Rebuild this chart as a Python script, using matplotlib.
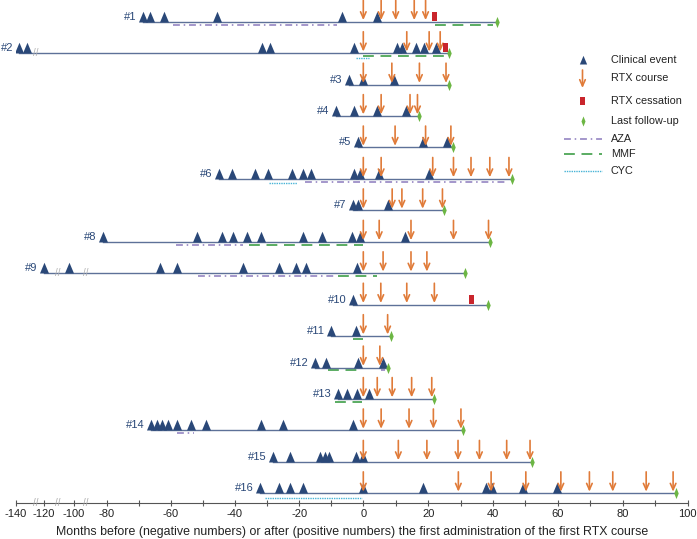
import numpy as np
import matplotlib
matplotlib.use('Agg')
import matplotlib.pyplot as plt
from matplotlib.patches import Rectangle

plt.rcParams['font.family'] = ['Liberation Sans', 'DejaVu Sans']
plt.rcParams['axes.unicode_minus'] = False

# months relative to the first RTX administration, one list per patient (#1..#16)
events = [
    [-68.8, -66.5, -62.1, -45.7, -6.5, 4.1],
    [-137.6, -132.4, -31.7, -29.1, -2.8, 10.3, 11.8, 16.2, 18.8, 22.3],
    [-4.5, -0.2, 9.5],
    [-8.6, -2.8, 4.1, 13.1],
    [-1.7, 18.3, 25.9],
    [-44.9, -41.0, -33.7, -29.8, -22.3, -18.9, -16.4, -2.8, -1.0, 4.8, 20.3],
    [-3.3, -1.6, 7.5],
    [-82.1, -51.9, -44.0, -40.5, -36.2, -31.9, -18.9, -13.0, -3.4, -1.0, 12.9],
    [-120.0, -103.1, -63.4, -58.2, -37.4, -26.2, -21.1, -17.9, -2.1],
    [-3.3],
    [-10.1, -2.3],
    [-15.1, -11.6, -1.7, 6.2],
    [-7.8, -5.2, -2.1, 1.8],
    [-66.2, -64.4, -62.9, -61.0, -58.2, -53.8, -49.0, -31.9, -25.1, -3.1],
    [-28.1, -22.9, -13.5, -11.9, -10.7, -2.3, -0.2],
    [-32.2, -26.2, -22.9, -18.9, -0.2, 18.5, 37.8, 39.8, 49.1, 59.6],
]
rtx = [
    [0, 5.5, 10.0, 15.7, 19.2],
    [0, 13.4, 20.3, 23.7],
    [0, 8.8, 17.3, 25.5],
    [0, 5.5, 14.4, 16.7],
    [0, 9.8, 19.2, 27.0],
    [0, 5.5, 21.4, 27.8, 33.2, 39.0, 44.9],
    [0, 8.9, 11.9, 18.3, 24.4],
    [0, 4.9, 14.7, 27.8, 38.6],
    [0, 6.1, 14.7, 19.6],
    [0, 5.4, 13.4, 21.9],
    [0, 7.5],
    [0, 5.1],
    [0, 4.3, 8.9, 14.9, 21.1],
    [0, 5.5, 14.1, 21.6, 30.1],
    [0, 10.8, 19.6, 29.2, 35.8, 44.2, 51.4],
    [0, 29.3, 39.4, 50.1, 60.9, 69.7, 76.9, 87.2, 95.5],
]
followup = [41.3, 26.5, 26.5, 17.2, 27.8, 45.7, 25.0, 39.1, 31.4, 38.3, 8.5, 7.5, 21.8, 30.7, 52.1, 96.5]
cess_patient = [1, 2, 10]
cess_month = [21.8, 25.2, 33.2]

# (patient, drug, start, end)
treatments = [
    (1, 'AZA', -59.3, -8.2), (1, 'MMF', 22.1, 40.0),
    (2, 'MMF', 0.0, 25.7), (2, 'CYC', -2.3, 1.8),
    (6, 'CYC', -29.3, -20.6), (6, 'AZA', -18.2, 44.2),
    (8, 'AZA', -58.4, -37.4), (8, 'MMF', -35.5, 0.0),
    (9, 'AZA', -51.6, -8.3), (9, 'MMF', -7.8, 4.1),
    (11, 'MMF', -3.3, 0.0),
    (12, 'MMF', -11.1, -0.7), (12, 'AZA', 5.4, 6.7),
    (13, 'MMF', -8.7, -0.5),
    (14, 'AZA', -58.0, -52.7),
    (16, 'CYC', -30.7, -0.5),
]
axis_breaks = [-126, -111, -93]
row_breaks = {2: [-126], 9: [-111, -93]}

major_ticks = [-140, -120, -100, -80, -60, -40, -20, 0, 20, 40, 60, 80, 100]
minor_ticks = [-70, -50, -30, -10, 10, 30, 50, 70, 90]

navy = '#2a4878'
line_c = '#5d7198'
orange = '#e07b39'
red = '#c9252c'
green = '#6cb644'
drug_style = {
    'AZA': dict(color='#8c7bbd', dashes=(4.5, 2.5, 1, 2.5), lw=1.1),
    'MMF': dict(color='#3e9e48', dashes=(6.5, 4), lw=1.2),
    'CYC': dict(color='#47b3d6', dashes=(1, 0.7), lw=1.0),
}
drug_off = {'AZA': 0.09, 'MMF': 0.09, 'CYC': 0.14}

# broken axis: compressed far-left part
km = np.array([-140, -120, -100, -80, 0, 100], float)
kp = np.array([16, 44, 74, 106.7, 363.3, 687.7])


def fwd(x):
    x = np.asarray(x, float)
    y = np.interp(x, km, kp)
    y = np.where(x < km[0], kp[0] + (x - km[0]) * 1.4, y)
    y = np.where(x > km[-1], kp[-1] + (x - km[-1]) * 3.244, y)
    return y


def inv(y):
    y = np.asarray(y, float)
    x = np.interp(y, kp, km)
    x = np.where(y < kp[0], km[0] + (y - kp[0]) / 1.4, x)
    x = np.where(y > kp[-1], km[-1] + (y - kp[-1]) / 3.244, x)
    return x


tri = [(-0.42, 0), (0.42, 0), (0, 1), (-0.42, 0)]
dia = [(0, -1), (0.4, 0), (0, 1), (-0.4, 0), (0, -1)]
bar = [(-0.25, 0.15), (0.25, 0.15), (0.25, 1), (-0.25, 1), (-0.25, 0.15)]

fig = plt.figure(figsize=(6.97, 5.39), dpi=100)
ax = fig.add_axes([16 / 697, 36 / 539, 671.7 / 697, 503 / 539])
ax.set_xscale('function', functions=(fwd, inv))
ax.set_xlim(-140, 100)
ax.set_ylim(0.69, 16.69)

for i in range(16):
    pid = i + 1
    y = 17 - pid
    start = min(events[i])
    ax.plot([start, followup[i]], [y, y], color=line_c, lw=1.0, zorder=2)
    ax.plot(events[i], [y] * len(events[i]), ls='none', marker=tri, ms=15.5,
            color=navy, mew=0, zorder=3)
    for r in rtx[i]:
        ax.annotate('', xy=(r, y + 0.05), xytext=(r, y + 0.68),
                    arrowprops=dict(arrowstyle='->,head_length=0.45,head_width=0.2',
                                    color=orange, lw=1.2, shrinkA=0, shrinkB=0,
                                    mutation_scale=10), zorder=4)
    ax.plot([followup[i]], [y], ls='none', marker=dia, ms=8, color=green, mew=0, zorder=5)
    ax.annotate(f'#{pid}', xy=(start, y), xytext=(-4.6, 3.6), textcoords='offset points',
                ha='right', va='center', fontsize=8, color=navy)
    for b in row_breaks.get(pid, []):
        ax.text(b, y, '//', ha='center', va='center', fontsize=7, color='#b0b0b0', zorder=2)

for p, m in zip(cess_patient, cess_month):
    ax.plot([m], [17 - p], ls='none', marker=bar, ms=14.4, color=red, mew=0, zorder=4)

for p, drug, s, e in treatments:
    y = 17 - p - drug_off[drug]
    ax.plot([s, e], [y, y], zorder=1, **drug_style[drug])

for b in axis_breaks:
    ax.text(b, 0.69, '//', ha='center', va='center', fontsize=7, color='#a8a8a8',
            clip_on=False)

for s in ['top', 'right', 'left']:
    ax.spines[s].set_visible(False)
ax.spines['bottom'].set_color('#555555')
ax.spines['bottom'].set_linewidth(0.8)
ax.set_yticks([])
ax.set_xticks(major_ticks)
ax.set_xticklabels([str(t) for t in major_ticks])
ax.set_xticks(minor_ticks, minor=True)
ax.tick_params(which='both', direction='inout', length=5, width=0.8, colors='#555555',
               labelcolor='#222222', labelsize=8, pad=2)
ax.set_xlabel('Months before (negative numbers) or after (positive numbers) the first '
              'administration of the first RTX course', fontsize=8.9, color='#222222',
              labelpad=4.5)

# legend drawn in pixel coordinates
lax = fig.add_axes([0, 0, 1, 1])
lax.set_xlim(0, 697)
lax.set_ylim(539, 0)
lax.axis('off')
hx = 582.5
tx = 610.7
lax.plot([hx], [63.5], marker=tri, ms=12.5, color=navy, mew=0, ls='none')
lax.annotate('', xy=(hx, 88), xytext=(hx, 70),
             arrowprops=dict(arrowstyle='->,head_length=0.45,head_width=0.2', color=orange,
                             lw=1.2, shrinkA=0, shrinkB=0, mutation_scale=10))
lax.add_patch(Rectangle((hx - 2.2, 97.3), 4.4, 7.7, color=red, lw=0))
lax.plot([hx], [121], marker=dia, ms=7.3, color=green, mew=0, ls='none')
for drug, yy in [('AZA', 139.3), ('MMF', 154), ('CYC', 170.7)]:
    lax.plot([564.3, 601.7], [yy, yy], **drug_style[drug])
labels = [('Clinical event', 60), ('RTX course', 78.3), ('RTX cessation', 101),
          ('Last follow-up', 121), ('AZA', 139.3), ('MMF', 154), ('CYC', 170.7)]
for t, yy in labels:
    lax.text(tx, yy, t, ha='left', va='center', fontsize=7.8, color='#222222')

fig.savefig('out.png', dpi=100)
